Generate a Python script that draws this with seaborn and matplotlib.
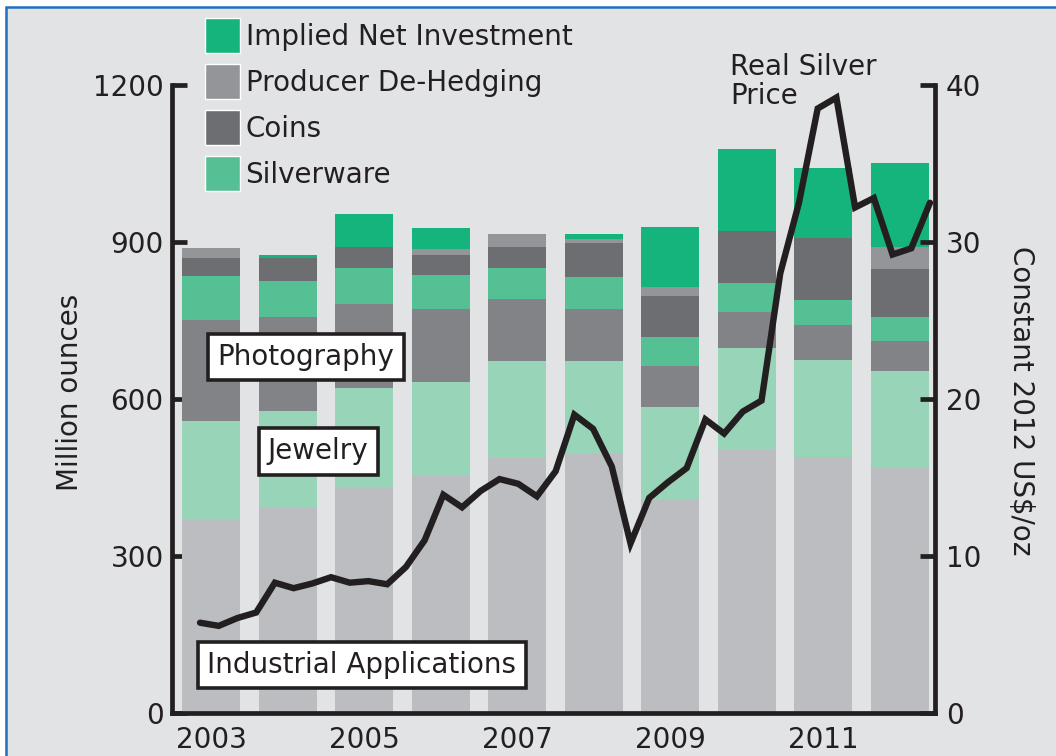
import numpy as np
import pandas as pd
import matplotlib
matplotlib.use("Agg")
import matplotlib.pyplot as plt
import seaborn as sns
from matplotlib.patches import Rectangle, Patch

# ---------------- data ----------------
years = ["2003", "2004", "2005", "2006", "2007", "2008", "2009", "2010", "2011", "2012"]
industrial = [370, 391, 432, 455, 487, 494, 407, 503, 490, 469]
jewelry = [188, 187, 189, 178, 185, 178, 177, 194, 185, 185]
photography = [193, 179, 160, 139, 119, 100, 79, 70, 67, 57]
silverware = [84, 69, 70, 64, 60, 61, 55, 55, 48, 46]
coins = [34, 43, 39, 39, 39, 66, 78, 99, 118, 91]
dehedging = [20, 0, 0, 11, 25, 7, 18, 0, 0, 42]
net_investment = [0, 6, 64, 40, 0, 9, 115, 157, 133, 161]

# quarterly real silver price (constant 2012 US$/oz)
price = [5.75, 5.55, 6.05, 6.4, 8.3, 7.95, 8.25, 8.65,
         8.3, 8.4, 8.2, 9.3, 11.0, 13.9, 13.1, 14.15,
         14.9, 14.6, 13.8, 15.4, 19.0, 18.1, 15.7, 10.8,
         13.7, 14.7, 15.6, 18.7, 17.8, 19.2, 19.9, 28.0,
         32.5, 38.5, 39.2, 32.2, 32.8, 29.2, 29.6, 32.5]
quarters = np.arange(2003, 2013, 0.25)

left_ticks = [0, 300, 600, 900, 1200]
right_ticks = [0, 10, 20, 30, 40]
xtick_labels = ["2003", "2005", "2007", "2009", "2011"]

# ---------------- style ----------------
sns.set_style("white")
plt.rcParams["font.family"] = ["DejaVu Sans"]
FS = 20
TXT = "#231f20"
PANEL = "#e1e3e5"
colors = {
    "industrial": "#bcbdc0",
    "jewelry": "#98d4b7",
    "photography": "#818386",
    "silverware": "#55c094",
    "coins": "#6d6e71",
    "dehedging": "#939598",
    "net": "#15b47c",
}

fig = plt.figure(figsize=(10.56, 7.56), dpi=100, facecolor="white")
# panel with blue frame
fig.patches.append(Rectangle((6 / 1056, -0.05), 1.2, 1 - 7 / 756 + 0.05,
                             transform=fig.transFigure, facecolor=PANEL,
                             edgecolor="#1f6fbf", linewidth=1.8, zorder=-10))

ax = fig.add_axes([172 / 1056, 1 - 713 / 756, (935 - 172) / 1056, (713 - 85) / 756])
ax.set_facecolor("none")

layers = [("industrial", industrial), ("jewelry", jewelry), ("photography", photography),
          ("silverware", silverware), ("coins", coins), ("dehedging", dehedging),
          ("net", net_investment)]
cum = np.cumsum(np.array([v for _, v in layers]), axis=0)
df = pd.DataFrame({"year": years})
for i in range(len(layers) - 1, -1, -1):
    name = layers[i][0]
    df["h"] = cum[i]
    sns.barplot(data=df, x="year", y="h", color=colors[name], saturation=1,
                width=0.757, linewidth=0, ax=ax, zorder=2)

ax.set_xlim(-0.51, 9.457)
ax.set_ylim(0, 1200)
ax.set_yticks(left_ticks)
ax.set_xticks([0, 2, 4, 6, 8])
ax.set_xticklabels(xtick_labels)
ax.set_xlabel("")
ax.set_ylabel("Million ounces", fontsize=FS, color=TXT)
ax.yaxis.set_label_coords(-0.115, 0.51)
ax.tick_params(axis="y", direction="in", length=11, width=3.4, color=TXT,
               labelsize=FS, labelcolor=TXT, pad=6)
ax.tick_params(axis="x", length=0, labelsize=FS, labelcolor=TXT, pad=9)
for s in ["left", "bottom"]:
    ax.spines[s].set_linewidth(3.4)
    ax.spines[s].set_color(TXT)
ax.spines["top"].set_visible(False)
ax.spines["right"].set_visible(False)

# direct labels
box = dict(boxstyle="square,pad=0.33", fc="white", ec=TXT, lw=2.6)
ax.text(1.24, 680, "Photography", ha="center", va="center", fontsize=FS,
        color=TXT, bbox=box, zorder=5)
ax.text(1.40, 500, "Jewelry", ha="center", va="center", fontsize=FS,
        color=TXT, bbox=box, zorder=5)
ax.text(1.97, 92, "Industrial Applications", ha="center", va="center", fontsize=FS,
        color=TXT, bbox=box, zorder=5)

# price line
ax2 = ax.twinx()
ax2.set_facecolor("none")
price_pos = -0.144 + (quarters - 2003) * 0.978
sns.lineplot(x=price_pos, y=price, ax=ax2, color=TXT, linewidth=4.6)
ax2.lines[-1].set_solid_joinstyle("miter")
ax2.set_ylim(0, 40)
ax2.set_xlim(-0.51, 9.457)
ax2.set_yticks(right_ticks)
ax2.tick_params(axis="y", direction="in", length=11, width=3.4, color=TXT,
                labelsize=FS, labelcolor=TXT, pad=8)
ax2.set_ylabel("Constant 2012 US$/oz", fontsize=FS, color=TXT, rotation=270,
               va="bottom")
ax2.yaxis.set_label_coords(1.094, 0.498)
for s in ["left", "top", "bottom"]:
    ax2.spines[s].set_visible(False)
ax2.spines["right"].set_linewidth(3.4)
ax2.spines["right"].set_color(TXT)

ax2.text(6.78, 38.4, "Real Silver\nPrice", ha="left", va="bottom", fontsize=FS,
         color=TXT, linespacing=1.06, clip_on=False)

# legend
handles = [Patch(facecolor=colors["net"], label="Implied Net Investment"),
           Patch(facecolor=colors["dehedging"], label="Producer De-Hedging"),
           Patch(facecolor=colors["coins"], label="Coins"),
           Patch(facecolor=colors["silverware"], label="Silverware")]
leg = fig.legend(handles=handles, loc="upper left",
                 bbox_to_anchor=(205 / 1056, 1 - 18 / 756),
                 frameon=False, fontsize=FS, handlelength=1.26, handleheight=1.56,
                 handletextpad=0.2, labelspacing=0.4, borderpad=0, borderaxespad=0)
for t in leg.get_texts():
    t.set_color(TXT)

fig.savefig("out.png", dpi=100, facecolor=fig.get_facecolor())
